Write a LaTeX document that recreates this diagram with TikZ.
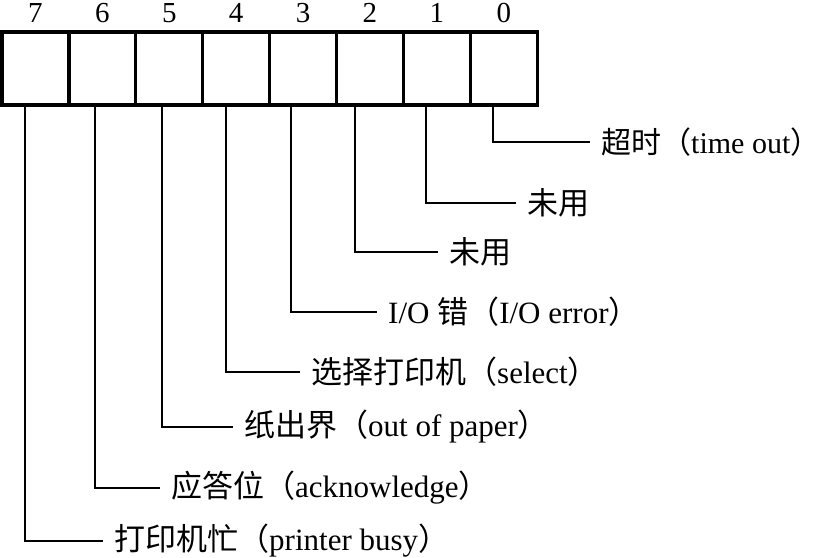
\documentclass[tikz,border=0pt]{standalone}
\usepackage{fontspec}
\setmainfont{Liberation Serif}
\newfontfamily\cjk{Noto Sans CJK SC}
\usetikzlibrary{positioning}
\tikzset{
  cell/.style={draw, line width=3.2pt, minimum width=66.9pt, minimum height=73pt, inner sep=0pt},
  bitno/.style={font=\fontsize{29}{31}\selectfont, inner sep=0pt},
  flag/.style={anchor=west, inner xsep=11pt, inner ysep=0pt, font=\fontsize{31}{33}\selectfont},
  lead/.style={line width=2.2pt}
}

\begin{document}
\begin{tikzpicture}[x=1pt,y=-1pt]
  \useasboundingbox (0,0) rectangle (814,557);
  % Register cells, bit 7 on the left
  \foreach \b in {0,...,7}{
    \node[cell] (c\b) at ({2+66.9*(7-\b)+33.45},68.5) {};
    \node[bitno] (n\b) at ({2+66.9*(7-\b)+33.45},13) {\b};
  }
  % Flag labels
  \node[flag, font=\fontsize{30}{32}\selectfont] (l0) at (590,142) {{\cjk 超时（}time out{\cjk ）}};
  \node[flag] (l1) at (516,203) {{\cjk 未用}};
  \node[flag] (l2) at (438,252) {{\cjk 未用}};
  \node[flag] (l3) at (377,312) {I/O {\cjk 错（}I/O error{\cjk ）}};
  \node[flag] (l4) at (300,372) {{\cjk 选择打印机（}select{\cjk ）}};
  \node[flag] (l5) at (233,427) {{\cjk 纸出界（}out of paper{\cjk ）}};
  \node[flag] (l6) at (160,488) {{\cjk 应答位（}acknowledge{\cjk ）}};
  \node[flag] (l7) at (103,541) {{\cjk 打印机忙（}printer busy{\cjk ）}};
  % Leads from cells to labels
  \draw[lead] (493,0 |- c0.south) |- (l0.west);
  \draw[lead] (426,0 |- c1.south) |- (l1.west);
  \draw[lead] (355,0 |- c2.south) |- (l2.west);
  \draw[lead] (291,0 |- c3.south) |- (l3.west);
  \draw[lead] (226,0 |- c4.south) |- (l4.west);
  \draw[lead] (162,0 |- c5.south) |- (l5.west);
  \draw[lead] (95,0 |- c6.south) |- (l6.west);
  \draw[lead] (25,0 |- c7.south) |- (l7.west);
\end{tikzpicture}
\end{document}
